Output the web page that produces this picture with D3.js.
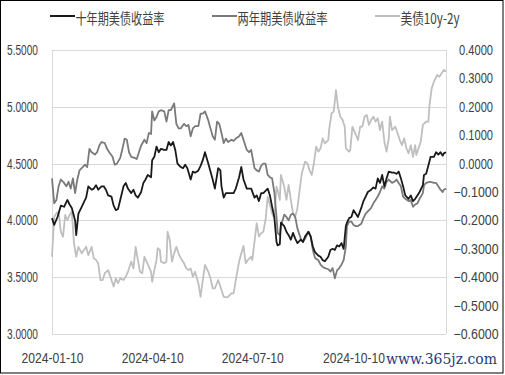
<!DOCTYPE html>
<html>
<head>
<meta charset="utf-8">
<script src="https://cdn.jsdelivr.net/npm/d3@7"></script>
<style>
  body { margin: 0; background: #fff; }
  svg { display: block; }
</style>
</head>
<body>
<div id="chart"></div>
<script>
// Dates are calendar days counted from 2024-01-10
var startDate = new Date(2024, 0, 10);
var endDay = 358;
var tickDates = ["2024-01-10", "2024-04-10", "2024-07-10", "2024-10-10"];
var seriesNames = ["十年期美债收益率", "两年期美债收益率", "美债10y-2y"];

// 10-year yield
var t10Days = [0,2,5,8,11,14,16,18,21,22,24,27,29,31,33,36,38,40,42,45,47,49,51,54,56,58,60,62,65,67,69,72,74,76,78,81,83,85,87,90,91,93,95,97,99,102,104,106,108,110,112,114,117,119,121,123,126,128,130,133,135,137,139,142,144,146,148,151,153,154,156,158,160,163,165,167,170,172,174,177,179,181,184,186,188,190,192,194,196,198,200,202,204,205,207,208,211,213,215,217,219,221,223,226,228,230,233,235,237,239,242,244,246,248,251,253,255,257,259,261,263,265,267,268,270,272,274,276,278,281,283,285,287,290,292,294,296,298,300,302,304,306,309,311,313,315,317,319,321,324,326,328,330,332,334,337,338,340,343,344,347,349,351,353,355,356,358];
var t10Yield = [4.02,3.96,4.03,4.13,4.12,4.18,4.14,4.11,4.00,3.87,4.06,4.12,4.16,4.20,4.30,4.27,4.28,4.31,4.27,4.30,4.30,4.27,4.22,4.21,4.13,4.09,4.10,4.18,4.30,4.33,4.28,4.24,4.27,4.22,4.20,4.25,4.33,4.36,4.40,4.38,4.53,4.56,4.65,4.60,4.63,4.62,4.62,4.69,4.66,4.69,4.62,4.50,4.47,4.46,4.49,4.46,4.36,4.43,4.42,4.44,4.48,4.53,4.60,4.50,4.43,4.36,4.28,4.46,4.44,4.30,4.20,4.24,4.24,4.24,4.24,4.28,4.38,4.47,4.36,4.28,4.28,4.28,4.20,4.22,4.17,4.24,4.24,4.26,4.28,4.22,4.12,4.03,3.81,3.78,3.79,3.98,3.95,3.90,3.87,3.83,3.89,3.84,3.80,3.83,3.81,3.86,3.90,3.86,3.77,3.72,3.69,3.68,3.65,3.64,3.68,3.74,3.75,3.74,3.78,3.77,3.80,3.75,3.95,3.98,4.02,4.03,4.09,4.06,4.03,4.11,4.17,4.21,4.25,4.27,4.29,4.28,4.37,4.33,4.40,4.30,4.37,4.43,4.42,4.42,4.41,4.43,4.37,4.30,4.22,4.19,4.22,4.17,4.19,4.22,4.25,4.31,4.40,4.41,4.52,4.56,4.56,4.60,4.58,4.60,4.57,4.59,4.60];

// 2-year yield
var t2Days = [0,2,4,6,8,11,13,15,17,19,21,23,25,27,30,32,34,36,39,41,43,45,48,50,52,55,57,59,62,64,66,68,70,72,75,77,79,81,84,86,88,90,91,93,95,97,99,102,104,106,108,111,113,115,117,120,122,124,126,128,130,133,135,137,139,142,144,146,148,150,152,154,156,158,160,163,165,167,170,172,174,177,179,181,184,186,188,190,192,194,196,198,200,202,204,205,207,208,211,213,215,217,219,221,223,226,228,230,233,235,237,239,242,244,246,248,251,253,255,257,259,261,263,265,267,268,270,272,274,276,278,281,283,285,287,290,292,294,296,298,300,302,304,306,309,311,313,315,317,319,321,324,326,328,330,332,334,337,338,340,343,344,347,349,351,353,355,356,358];
var t2Yield = [4.37,4.15,4.18,4.30,4.36,4.33,4.30,4.34,4.28,4.37,4.24,4.36,4.44,4.46,4.49,4.47,4.63,4.60,4.58,4.60,4.66,4.69,4.68,4.63,4.60,4.56,4.49,4.50,4.55,4.63,4.72,4.71,4.60,4.56,4.55,4.54,4.60,4.66,4.71,4.68,4.77,4.76,4.96,4.88,4.91,4.96,4.97,4.96,4.87,4.97,4.97,5.03,4.85,4.81,4.81,4.85,4.83,4.84,4.74,4.81,4.83,4.83,4.94,4.94,4.96,4.88,4.81,4.74,4.71,4.87,4.85,4.77,4.68,4.72,4.69,4.71,4.70,4.72,4.74,4.77,4.71,4.62,4.60,4.62,4.46,4.44,4.43,4.48,4.50,4.50,4.40,4.38,4.37,4.25,4.03,3.89,3.87,3.95,4.05,4.03,4.00,4.05,4.06,4.03,3.93,3.84,3.81,3.84,3.90,3.86,3.74,3.67,3.65,3.61,3.59,3.58,3.57,3.55,3.58,3.49,3.56,3.58,3.61,3.65,3.77,3.95,3.99,3.99,3.96,3.95,3.95,3.97,4.02,4.06,4.08,4.11,4.15,4.18,4.21,4.25,4.30,4.28,4.34,4.36,4.33,4.34,4.36,4.33,4.30,4.21,4.19,4.17,4.18,4.12,4.14,4.15,4.19,4.24,4.31,4.33,4.34,4.34,4.33,4.33,4.30,4.27,4.25,4.27,4.28];

// 10y-2y spread (right axis)
var spreadDays = [0,2,4,6,8,10,12,14,16,18,20,22,24,27,29,31,33,36,38,40,42,44,46,48,51,53,56,58,60,62,65,67,69,72,74,76,78,80,82,84,86,88,90,91,93,95,96,98,99,102,104,105,107,109,111,113,115,117,120,122,124,126,128,130,133,135,137,139,142,144,146,148,151,153,154,156,158,160,163,165,167,170,172,174,176,178,181,182,184,186,188,190,192,194,196,198,200,202,204,205,207,208,211,213,215,217,219,221,223,225,227,230,232,234,236,238,240,242,244,246,248,251,252,254,256,258,260,262,264,266,267,270,271,273,275,278,280,282,284,286,288,290,292,294,296,298,300,302,304,306,307,309,312,314,316,318,320,322,324,326,328,330,331,334,335,337,340,342,343,345,347,350,352,354,356,358];
var spreadVal = [-0.328,-0.187,-0.175,-0.169,-0.240,-0.257,-0.181,-0.199,-0.181,-0.169,-0.281,-0.328,-0.293,-0.316,-0.304,-0.293,-0.322,-0.293,-0.333,-0.339,-0.351,-0.410,-0.410,-0.386,-0.375,-0.398,-0.433,-0.404,-0.421,-0.404,-0.410,-0.398,-0.381,-0.345,-0.369,-0.293,-0.339,-0.381,-0.386,-0.328,-0.345,-0.363,-0.381,-0.416,-0.375,-0.339,-0.298,-0.304,-0.345,-0.351,-0.345,-0.240,-0.269,-0.345,-0.316,-0.293,-0.316,-0.333,-0.351,-0.369,-0.375,-0.369,-0.398,-0.381,-0.421,-0.469,-0.410,-0.357,-0.381,-0.404,-0.439,-0.439,-0.410,-0.433,-0.445,-0.469,-0.471,-0.469,-0.457,-0.457,-0.410,-0.345,-0.316,-0.290,-0.351,-0.339,-0.328,-0.339,-0.275,-0.210,-0.257,-0.245,-0.240,-0.199,-0.117,-0.146,-0.175,-0.193,-0.081,-0.093,-0.128,-0.040,-0.081,-0.128,-0.075,-0.128,-0.175,-0.187,-0.157,-0.093,-0.034,0.007,0.001,-0.023,-0.040,0.001,0.060,0.042,0.054,0.089,0.071,0.083,0.124,0.177,0.183,0.259,0.195,0.165,0.154,0.130,0.054,0.042,0.048,0.130,0.112,0.083,0.130,0.130,0.165,0.171,0.136,0.154,0.165,0.148,0.160,0.118,0.148,0.077,0.042,0.089,0.165,0.118,0.130,0.107,0.083,0.065,0.089,0.054,0.036,0.065,0.024,0.065,0.030,0.065,0.077,0.136,0.148,0.148,0.206,0.265,0.288,0.312,0.306,0.318,0.330,0.324];

var leftTicks = [3.0, 3.5, 4.0, 4.5, 5.0, 5.5];
var rightTicks = [-0.6, -0.5, -0.4, -0.3, -0.2, -0.1, 0.0, 0.1, 0.2, 0.3, 0.4];

var W = 505, H = 375;
var margin = { top: 50, right: 59, bottom: 41, left: 52 };
var width = W - margin.left - margin.right;
var height = H - margin.top - margin.bottom;

var tickFont = "'Liberation Sans', Arial, sans-serif";
var cjkFont = "'Noto Sans CJK SC', 'Noto Sans', sans-serif";
var textColor = "#404040";

var svg = d3.select("#chart")
  .append("svg")
  .attr("width", W)
  .attr("height", H);

// outer frame
svg.append("rect")
  .attr("x", 0.5).attr("y", 0.5)
  .attr("width", W - 2.5).attr("height", H - 2.5)
  .attr("fill", "#fff")
  .attr("stroke", "#000")
  .attr("stroke-width", 1);

var g = svg.append("g")
  .attr("transform", "translate(" + margin.left + "," + margin.top + ")");

function toDate(d) { return d3.timeDay.offset(startDate, d); }

// Scales
var x = d3.scaleTime()
  .domain([startDate, toDate(endDay)])
  .range([0, width]);
var yLeft = d3.scaleLinear().domain([3, 5.5]).range([height, 0]);
var yRight = d3.scaleLinear().domain([-0.6, 0.4]).range([height, 0]);

// Gridlines
g.append("g")
  .selectAll("line")
  .data(leftTicks)
  .enter()
  .append("line")
  .attr("x1", 0).attr("x2", width)
  .attr("y1", function (d) { return Math.round(yLeft(d)) + 0.5; })
  .attr("y2", function (d) { return Math.round(yLeft(d)) + 0.5; })
  .attr("stroke", "#d9d9d9");
// plot area sides
[0, width].forEach(function (px) {
  g.append("line")
    .attr("x1", px + 0.5).attr("x2", px + 0.5)
    .attr("y1", 0).attr("y2", height)
    .attr("stroke", "#d9d9d9");
});

// Axes
var fmt = d3.format(".4f");
var axisL = g.append("g")
  .call(d3.axisLeft(yLeft).tickValues(leftTicks).tickSize(0).tickPadding(14).tickFormat(fmt));
var axisR = g.append("g")
  .attr("transform", "translate(" + width + ",0)")
  .call(d3.axisRight(yRight).tickValues(rightTicks).tickSize(0).tickPadding(30).tickFormat(fmt));
var axisB = g.append("g")
  .attr("transform", "translate(0," + height + ")")
  .call(d3.axisBottom(x)
    .tickValues(tickDates.map(function (s) { return d3.timeParse("%Y-%m-%d")(s); }))
    .tickSize(0).tickPadding(19)
    .tickFormat(d3.timeFormat("%Y-%m-%d")));

[axisL, axisR, axisB].forEach(function (a) {
  a.select(".domain").remove();
  a.selectAll("text")
    .attr("fill", textColor)
    .attr("lengthAdjust", "spacingAndGlyphs")
    .style("font-family", tickFont)
    .style("font-size", "14px");
});
// the reference uses a narrow face: squeeze labels to its widths
axisL.selectAll("text").attr("textLength", 31);
axisR.selectAll("text")
  .attr("text-anchor", "middle")
  .attr("textLength", function (d) { return d < 0 ? 45 : 34; });
axisB.selectAll("text").attr("textLength", 62);

// Lines
function makeLine(days, vals, scaleY) {
  var pts = days.map(function (d, i) { return [toDate(d), vals[i]]; });
  return d3.line()
    .x(function (p) { return x(p[0]); })
    .y(function (p) { return scaleY(p[1]); })(pts);
}

g.append("path")
  .attr("d", makeLine(spreadDays, spreadVal, yRight))
  .attr("fill", "none")
  .attr("stroke", "#bfbfbf")
  .attr("stroke-width", 1.8)
  .attr("stroke-linejoin", "round");
g.append("path")
  .attr("d", makeLine(t2Days, t2Yield, yLeft))
  .attr("fill", "none")
  .attr("stroke", "#7a7a7a")
  .attr("stroke-width", 1.8)
  .attr("stroke-linejoin", "round");
g.append("path")
  .attr("d", makeLine(t10Days, t10Yield, yLeft))
  .attr("fill", "none")
  .attr("stroke", "#1a1a1a")
  .attr("stroke-width", 1.8)
  .attr("stroke-linejoin", "round");

// Legend
var legendItems = [
  { name: seriesNames[0], color: "#1a1a1a", x: 50, w: 89 },
  { name: seriesNames[1], color: "#7a7a7a", x: 212, w: 90 },
  { name: seriesNames[2], color: "#bfbfbf", x: 375, w: 59 }
];
var legend = svg.append("g").attr("class", "legend");
var keys = legend.selectAll(".legend-key")
  .data(legendItems)
  .enter()
  .append("g")
  .attr("class", "legend-key")
  .attr("transform", function (d) { return "translate(" + d.x + ",0)"; });
keys.append("line")
  .attr("x1", 0).attr("x2", 25)
  .attr("y1", 16).attr("y2", 16)
  .attr("stroke", function (d) { return d.color; })
  .attr("stroke-width", 2);
keys.append("text")
  .attr("x", 25.5)
  .attr("y", 23.5)
  .attr("textLength", function (d) { return d.w; })
  .attr("lengthAdjust", "spacingAndGlyphs")
  .attr("fill", textColor)
  .style("font-family", cjkFont)
  .style("font-size", "15px")
  .text(function (d) { return d.name; });

// watermark
svg.append("text")
  .attr("x", 386)
  .attr("y", 364)
  .attr("textLength", 111)
  .attr("lengthAdjust", "spacingAndGlyphs")
  .attr("fill", "#1f3b7a")
  .style("font-family", "'DejaVu Serif', 'Liberation Serif', serif")
  .style("font-size", "15px")
  .text("www.365jz.com");
</script>
</body>
</html>
